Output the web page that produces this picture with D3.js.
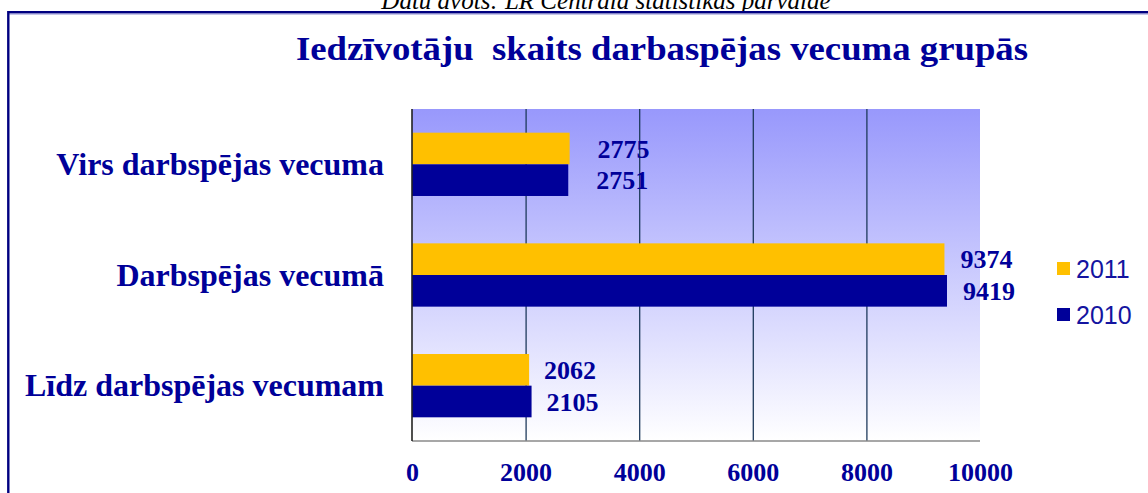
<!DOCTYPE html>
<html>
<head>
<meta charset="utf-8">
<script src="https://cdn.jsdelivr.net/npm/d3@7"></script>
<style>
html,body{margin:0;padding:0;background:#fff;overflow:hidden;}
svg{display:block;}
</style>
</head>
<body>
<svg id="chart" width="1148" height="493"></svg>
<script>
// ---- data ----
const categories = ["Virs darbspējas vecuma", "Darbspējas vecumā", "Līdz darbspējas vecumam"];
const seriesNames = ["2011", "2010"];
const values2011 = [2775, 9374, 2062];
const values2010 = [2751, 9419, 2105];
const xTicks = [0, 2000, 4000, 6000, 8000, 10000];
const titleText = "Iedzīvotāju  skaits darbaspējas vecuma grupās";
const sourceText = "Datu avots: LR Centrālā statistikas pārvalde";

// ---- layout ----
const colors = {"2011": "#FFC000", "2010": "#000099"};
const textColor = "#000099";
const plot = {left: 412, right: 980, top: 109, bottom: 441};
const labelDx = [28, 16, 15];

const svg = d3.select("#chart");
const defs = svg.append("defs");
const grad = defs.append("linearGradient").attr("id", "bg").attr("x1", 0).attr("y1", 0).attr("x2", 0).attr("y2", 1);
grad.append("stop").attr("offset", "0%").attr("stop-color", "#9898FC");
grad.append("stop").attr("offset", "100%").attr("stop-color", "#FFFFFF");

// source line (clipped at top, as in the original)
svg.append("text").attr("x", 606).attr("y", 9).attr("text-anchor", "middle")
  .attr("font-family", "Liberation Serif").attr("font-style", "italic").attr("font-size", 25)
  .attr("fill", "#000").text(sourceText);

// frame
svg.append("rect").attr("x", 0).attr("y", 13).attr("width", 1148).attr("height", 480).attr("fill", "#fff");
svg.append("line").attr("x1", 8.5).attr("x2", 1148).attr("y1", 12.2).attr("y2", 12.2).attr("stroke", "#000080").attr("stroke-width", 2.4);
svg.append("line").attr("x1", 1148).attr("x2", 8.5).attr("y1", 14).attr("y2", 14).attr("stroke", "#8c8cd0").attr("stroke-width", 1);
svg.append("line").attr("x1", 8.3).attr("x2", 8.3).attr("y1", 11).attr("y2", 493).attr("stroke", "#000080").attr("stroke-width", 2.4);

// title
svg.append("text").attr("x", 662).attr("y", 60).attr("text-anchor", "middle")
  .attr("font-family", "Liberation Serif").attr("font-weight", "bold").attr("font-size", 34)
  .attr("fill", textColor).attr("textLength", 732).attr("lengthAdjust", "spacingAndGlyphs")
  .style("white-space", "pre").text(titleText);

const x = d3.scaleLinear().domain([0, 10000]).range([plot.left, plot.right]);
const y = d3.scaleBand().domain(categories).range([plot.top, plot.bottom]).paddingInner(0.428).paddingOuter(0.214);
const ySub = d3.scaleBand().domain(seriesNames).range([0, y.bandwidth()]);

// plot background
svg.append("rect").attr("x", plot.left).attr("y", plot.top)
  .attr("width", plot.right - plot.left).attr("height", plot.bottom - plot.top).attr("fill", "url(#bg)");

// gridlines
const grid = svg.append("g").attr("transform", `translate(0,${plot.bottom})`)
  .call(d3.axisBottom(x).tickValues(xTicks.slice(1, -1)).tickSize(-(plot.bottom - plot.top)).tickFormat(""));
grid.select(".domain").remove();
grid.selectAll("line").attr("stroke", "#1e3a5c").attr("stroke-width", 1.3);

// bars
const rows = categories.map((c, i) => ({cat: c, i, vals: [{s: "2011", v: values2011[i]}, {s: "2010", v: values2010[i]}]}));
const g = svg.append("g");
const grp = g.selectAll("g.cat").data(rows).join("g").attr("class", "cat")
  .attr("transform", d => `translate(0,${y(d.cat)})`);
grp.selectAll("rect").data(d => d.vals).join("rect")
  .attr("x", x(0)).attr("y", d => ySub(d.s)).attr("width", d => x(d.v) - x(0))
  .attr("height", ySub.bandwidth()).attr("fill", d => colors[d.s]);
grp.each(function(row) {
  d3.select(this).selectAll("text.val").data(row.vals).join("text").attr("class", "val")
    .attr("x", d => x(d.v) + labelDx[row.i]).attr("y", d => ySub(d.s) + ySub.bandwidth() / 2)
    .attr("dy", "0.35em").attr("font-family", "Liberation Serif").attr("font-weight", "bold")
    .attr("font-size", 26).attr("fill", textColor).text(d => d.v);
});

// axes lines
svg.append("line").attr("x1", plot.left).attr("x2", plot.right).attr("y1", plot.bottom).attr("y2", plot.bottom)
  .attr("stroke", "#8a8a8a").attr("stroke-width", 1.3);
svg.append("line").attr("x1", plot.left).attr("x2", plot.left).attr("y1", plot.top).attr("y2", plot.bottom)
  .attr("stroke", "#222").attr("stroke-width", 1.6);

// x axis labels
const xa = svg.append("g").attr("transform", `translate(0,${plot.bottom})`)
  .call(d3.axisBottom(x).tickValues(xTicks).tickSize(0).tickPadding(0).tickFormat(d3.format("d")));
xa.select(".domain").remove();
xa.selectAll("text").attr("y", 40).attr("dy", 0).attr("font-family", "Liberation Serif").attr("font-weight", "bold")
  .attr("font-size", 26).attr("fill", textColor);

// category labels
const ya = svg.append("g").attr("transform", `translate(384,0)`)
  .call(d3.axisLeft(y).tickSize(0).tickPadding(0));
ya.select(".domain").remove();
ya.selectAll("text").attr("dy", "0.33em").attr("font-family", "Liberation Serif").attr("font-weight", "bold")
  .attr("font-size", 32).attr("fill", textColor);

// legend
const lg = svg.append("g");
const ly = d3.scalePoint().domain(seriesNames).range([268.5, 314.5]);
lg.selectAll("rect").data(seriesNames).join("rect")
  .attr("x", 1057).attr("y", d => ly(d) - 6.5).attr("width", 13).attr("height", 13).attr("fill", d => colors[d]);
lg.selectAll("text").data(seriesNames).join("text")
  .attr("x", 1076).attr("y", d => ly(d)).attr("dy", "0.36em")
  .attr("font-family", "Liberation Sans").attr("font-size", 25).attr("fill", "#1414a0").text(d => d);
</script>
</body>
</html>
